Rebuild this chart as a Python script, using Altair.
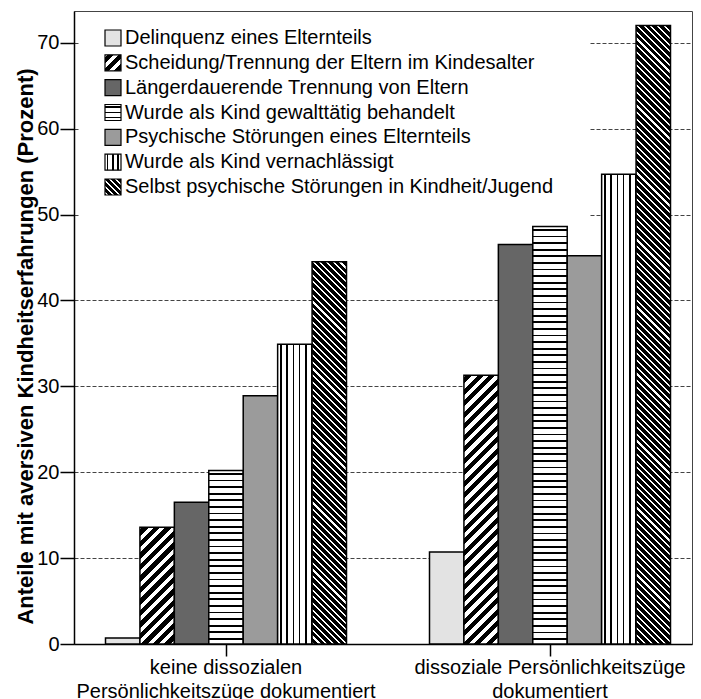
import altair as alt
import pandas as pd

# ---------------- data ----------------
groups = [
    "keine dissozialen\nPersönlichkeitszüge dokumentiert",
    "dissoziale Persönlichkeitszüge\ndokumentiert",
]
series = [
    "Delinquenz eines Elternteils",
    "Scheidung/Trennung der Eltern im Kindesalter",
    "Längerdauerende Trennung von Eltern",
    "Wurde als Kind gewalttätig behandelt",
    "Psychische Störungen eines Elternteils",
    "Wurde als Kind vernachlässigt",
    "Selbst psychische Störungen in Kindheit/Jugend",
]
values_keine = [0.7, 13.6, 16.5, 20.2, 28.9, 34.9, 44.5]
values_dissozial = [10.7, 31.3, 46.5, 48.6, 45.2, 54.7, 72.0]
y_ticks = [0, 10, 20, 30, 40, 50, 60, 70]
y_title = "Anteile mit aversiven Kindheitserfahrungen (Prozent)"

# ---------------- layout / style ----------------
FONT = "Liberation Sans"
PLOT_W, PLOT_H = 618, 633
Y_MAX = 73.7
STEP, BAND, LEFT_GAP = 324.0, 241.0, 31.5
PAD_INNER = 1 - BAND / STEP
OUTER_TOTAL = PLOT_W - STEP * (2 - PAD_INNER)
PAD_OUTER = OUTER_TOTAL / (2 * STEP)
ALIGN = LEFT_GAP / OUTER_TOTAL
bar_w = BAND / len(series)
LEG_SIDE = 16

styles = [
    {"kind": "solid", "color": "#e3e3e3"},
    {"kind": "diag_up", "period": 11.5, "ink": 6.3, "lperiod": 11.0, "link": 6.0},
    {"kind": "solid", "color": "#666666"},
    {"kind": "hlines", "period": 6.6, "ink": 1.8, "lperiod": 5.3, "link": 1.5},
    {"kind": "solid", "color": "#9b9b9b"},
    {"kind": "vlines", "period": 6.3, "ink": 1.6, "lperiod": 5.3, "link": 1.5},
    {"kind": "diag_down", "period": 6.7, "ink": 4.6, "lperiod": 6.0, "link": 4.0},
]


def stripe_stops(total, period, ink, phase, ink_col="black", bg_col="white"):
    stops = []
    k = -2
    while True:
        a = phase + k * period
        if a > total:
            break
        for s, e, col in ((a, a + ink, ink_col), (a + ink, a + period, bg_col)):
            s2, e2 = max(s, 0.0), min(e, total)
            if e2 > s2:
                stops.append({"offset": round(s2 / total, 5), "color": col})
                stops.append({"offset": round(e2 / total, 5), "color": col})
        k += 1
    return stops


def make_fill(style, w, h, legend=False):
    kind = style["kind"]
    if kind == "solid":
        return style["color"]
    period = style["lperiod"] if legend else style["period"]
    ink = style["link"] if legend else style["ink"]
    if kind == "hlines":
        total = h
        coords = {"x1": 0, "y1": 0, "x2": 0, "y2": 1}
    elif kind == "vlines":
        total = w
        coords = {"x1": 0, "y1": 0, "x2": 1, "y2": 0}
    elif kind == "diag_up":
        t = (w + h) / (w * w + h * h)
        total = w + h
        coords = {"x1": 0, "y1": 0, "x2": t * w, "y2": t * h}
    else:  # diag_down
        t = (w + h) / (w * w + h * h)
        total = w + h
        coords = {"x1": 1, "y1": 0, "x2": 1 - t * w, "y2": t * h}
    stops = stripe_stops(total, period, ink, period / 2 - ink / 2)
    return {"gradient": "linear", **coords, "stops": stops}


rows = []
for gi, (g, vals) in enumerate(zip(groups, [values_keine, values_dissozial])):
    for si, (s, v) in enumerate(zip(series, vals)):
        rows.append({"group": g, "series": s, "value": v, "gi": gi, "si": si})
df = pd.DataFrame(rows)

x_enc = alt.X(
    "group:N",
    sort=groups,
    scale=alt.Scale(
        domain=groups, paddingInner=PAD_INNER, paddingOuter=PAD_OUTER, align=ALIGN
    ),
    axis=alt.Axis(
        title=None,
        labelAngle=0,
        labelExpr="split(datum.label, '\\n')",
        labelFontSize=20,
        labelLineHeight=24,
        labelPadding=1,
        labelLimit=0,
        tickSize=12,
        grid=False,
    ),
)
xo_enc = alt.XOffset(
    "series:N", sort=series, scale=alt.Scale(domain=series, paddingInner=0, paddingOuter=0)
)
y_enc = alt.Y(
    "value:Q",
    scale=alt.Scale(domain=[0, Y_MAX], nice=False, zero=True),
    axis=alt.Axis(
        values=y_ticks,
        title=y_title,
        titleFontSize=22,
        titleFontWeight="bold",
        titleX=-49,
        titleY=335,
        titleAlign="center",
        titleBaseline="middle",
        labelFontSize=20,
        labelPadding=1,
        tickSize=14,
        grid=True,
        gridDash=[4, 2],
        gridColor="#444444",
        gridWidth=1,
    ),
)

bar_layers = []
for si, s in enumerate(series):
    for gi, vals in enumerate([values_keine, values_dissozial]):
        h = vals[si] * PLOT_H / Y_MAX
        fill = make_fill(styles[si], bar_w, h)
        bar_layers.append(
            alt.Chart(df)
            .transform_filter((alt.datum.si == si) & (alt.datum.gi == gi))
            .mark_bar(fill=fill, stroke="black", strokeWidth=1.5, opacity=1)
            .encode(x=x_enc, xOffset=xo_enc, y=y_enc)
        )
bars = alt.layer(*bar_layers)

# ---------------- legend ----------------
leg_df = pd.DataFrame({"label": series, "si": list(range(len(series)))})
leg_y = alt.Y(
    "label:N",
    sort=series,
    scale=alt.Scale(domain=series, range=[27, 176], padding=0),
    axis=None,
)
leg_bg = (
    alt.Chart(pd.DataFrame({"d": [0]}))
    .mark_rect(fill="white")
    .encode(x=alt.value(6), x2=alt.value(516), y=alt.value(2), y2=alt.value(214))
)
leg_squares = []
for si in range(len(series)):
    leg_squares.append(
        alt.Chart(leg_df)
        .transform_filter(alt.datum.si == si)
        .mark_square(
            size=LEG_SIDE * LEG_SIDE,
            fill=make_fill(styles[si], LEG_SIDE, LEG_SIDE, legend=True),
            stroke="black",
            strokeWidth=1.2,
            opacity=1,
            filled=True,
        )
        .encode(x=alt.value(39), y=leg_y)
    )
leg_text = (
    alt.Chart(leg_df)
    .mark_text(align="left", baseline="middle", fontSize=20, font=FONT, color="black")
    .encode(x=alt.value(51), y=leg_y, text="label:N")
)
legend = alt.layer(leg_bg, *leg_squares, leg_text)

chart = (
    alt.layer(bars, legend)
    .resolve_scale(y="independent")
    .properties(
        width=PLOT_W,
        height=PLOT_H,
        autosize=alt.AutoSizeParams(type="none"),
        padding={"left": 66, "top": 3, "right": 1, "bottom": 55},
        background="white",
    )
    .configure_view(stroke="#444444", strokeWidth=1)
    .configure_axis(
        labelFont=FONT,
        titleFont=FONT,
        labelColor="black",
        titleColor="black",
        domainColor="black",
        domainWidth=1.5,
        tickColor="black",
        tickWidth=1.5,
    )
)

chart.save("out.html", embed_options={"renderer": "svg", "actions": False})
